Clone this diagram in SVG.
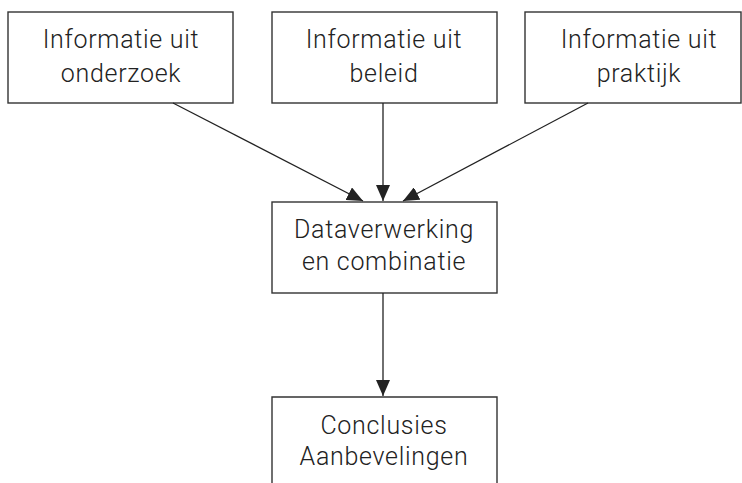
<svg xmlns="http://www.w3.org/2000/svg" width="742" height="483" viewBox="0 0 742 483">
<style>
.box{fill:#fff;stroke:#333;stroke-width:1.4}
.t{font-family:Roboto,"Liberation Sans",sans-serif;font-size:25px;font-weight:300;letter-spacing:0.7px;fill:#222;text-anchor:middle}
.c{stroke:#222;stroke-width:1.3;fill:none;marker-end:url(#arr)}
</style>
<defs>
<marker id="arr" viewBox="0 0 16 14" refX="16" refY="7" markerWidth="16" markerHeight="14" markerUnits="userSpaceOnUse" orient="auto">
<path d="M0,0 L16,7 L0,14 z" fill="#222"/>
</marker>
</defs>
<g id="n1"><rect class="box" x="8" y="12" width="225" height="91"/><text class="t" x="121" y="48">Informatie uit</text><text class="t" x="121" y="82">onderzoek</text></g>
<g id="n2"><rect class="box" x="272" y="12" width="225" height="91"/><text class="t" x="384" y="48">Informatie uit</text><text class="t" x="384" y="82">beleid</text></g>
<g id="n3"><rect class="box" x="525" y="12" width="216" height="91"/><text class="t" x="639" y="48">Informatie uit</text><text class="t" x="639" y="82">praktijk</text></g>
<g id="n4"><rect class="box" x="272" y="202" width="225" height="91"/><text class="t" x="384" y="238">Dataverwerking</text><text class="t" x="384" y="270">en combinatie</text></g>
<g id="n5"><path class="box" d="M272,484 V397 H497 V484"/><text class="t" x="384" y="434">Conclusies</text><text class="t" x="384" y="465">Aanbevelingen</text></g>
<g id="connectors">
<line class="c" x1="173" y1="103" x2="363" y2="201"/>
<line class="c" x1="383" y1="103" x2="383" y2="201"/>
<line class="c" x1="588" y1="103" x2="403" y2="201"/>
<line class="c" x1="383" y1="293" x2="383" y2="396"/>
</g>
</svg>
